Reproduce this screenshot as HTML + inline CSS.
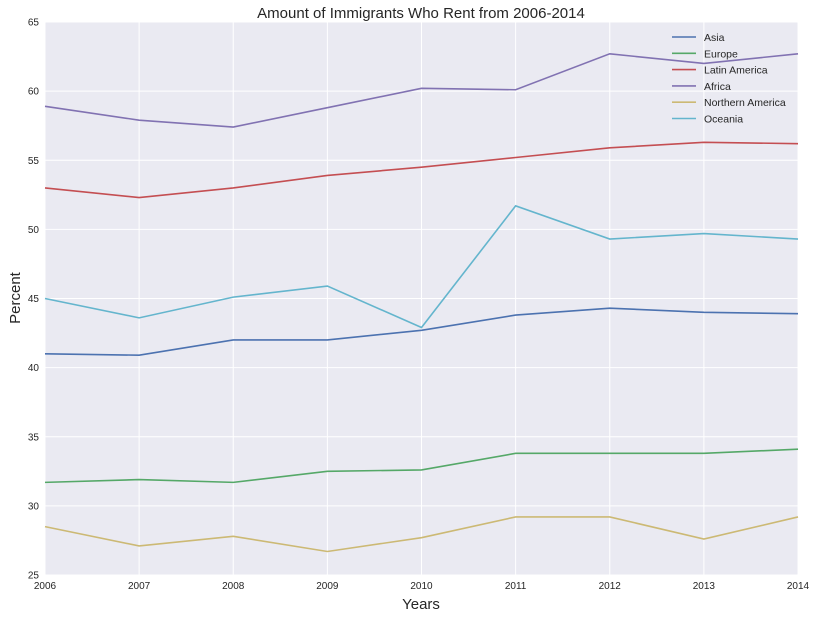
<!DOCTYPE html>
<html><head><meta charset="utf-8"><style>
body{margin:0;background:#fff;font-family:"Liberation Sans",sans-serif}
</style></head><body>
<svg id="c" width="823" height="618" xmlns="http://www.w3.org/2000/svg">
<text x="421" y="18" text-anchor="middle" font-size="15" fill="#262626">Amount of Immigrants Who Rent from 2006-2014</text>
<text x="421" y="609" text-anchor="middle" font-size="15" fill="#262626">Years</text>
<text x="20" y="298" text-anchor="middle" font-size="15" fill="#262626" transform="rotate(-90 20 298)">Percent</text>
</svg>
<script>
const years=[2006,2007,2008,2009,2010,2011,2012,2013,2014];
const yTicks=[25,30,35,40,45,50,55,60,65];
const seriesNames=["Asia","Europe","Latin America","Africa","Northern America","Oceania"];
const asia=[41.0,40.9,42.0,42.0,42.7,43.8,44.3,44.0,43.9];
const europe=[31.7,31.9,31.7,32.5,32.6,33.8,33.8,33.8,34.1];
const latinAmerica=[53.0,52.3,53.0,53.9,54.5,55.2,55.9,56.3,56.2];
const africa=[58.9,57.9,57.4,58.8,60.2,60.1,62.7,62.0,62.7];
const northernAmerica=[28.5,27.1,27.8,26.7,27.7,29.2,29.2,27.6,29.2];
const oceania=[45.0,43.6,45.1,45.9,42.9,51.7,49.3,49.7,49.3];
const allSeries=[asia,europe,latinAmerica,africa,northernAmerica,oceania];
const colors=["#4C72B0","#55A868","#C44E52","#8172B2","#CCB974","#64B5CD"];
const L=45,R=798,T=22,B=575;
const x=v=>L+(v-2006)/(2014-2006)*(R-L);
const y=v=>B-(v-25)/(65-25)*(B-T);
const svg=document.getElementById('c');
const NS="http://www.w3.org/2000/svg";
function mk(t,a){const e=document.createElementNS(NS,t);for(const k in a)e.setAttribute(k,a[k]);svg.appendChild(e);return e;}
const bg=mk('rect',{x:L,y:T,width:R-L,height:B-T,fill:'#EAEAF2'});


yTicks.forEach(t=>{
 const g=mk('line',{x1:L,x2:R,y1:y(t),y2:y(t),stroke:'#fff','stroke-width':1});
 
 
 const lb=mk('text',{x:L-6,y:y(t)+3.5,'text-anchor':'end','font-size':10,fill:'#262626'});
 lb.textContent=t;
 
 
});
years.forEach(t=>{
 const g=mk('line',{x1:x(t),x2:x(t),y1:T,y2:B,stroke:'#fff','stroke-width':1});
 
 
 const lb=mk('text',{x:x(t),y:B+14,'text-anchor':'middle','font-size':10,fill:'#262626'});
 lb.textContent=t;
 
 
});
allSeries.forEach((s,i)=>{
 const p=mk('polyline',{points:s.map((v,j)=>x(years[j])+','+y(v)).join(' '),fill:'none',stroke:colors[i],'stroke-width':1.6});
 
 
 const ly=37+i*16.3;
 const ll=mk('line',{x1:672,x2:696,y1:ly,y2:ly,stroke:colors[i],'stroke-width':1.6});
 
 
 const lt=mk('text',{x:704,y:ly+4,'font-size':10.5,fill:'#262626'});
 lt.textContent=seriesNames[i];
 
 
});
</script>
</body></html>
